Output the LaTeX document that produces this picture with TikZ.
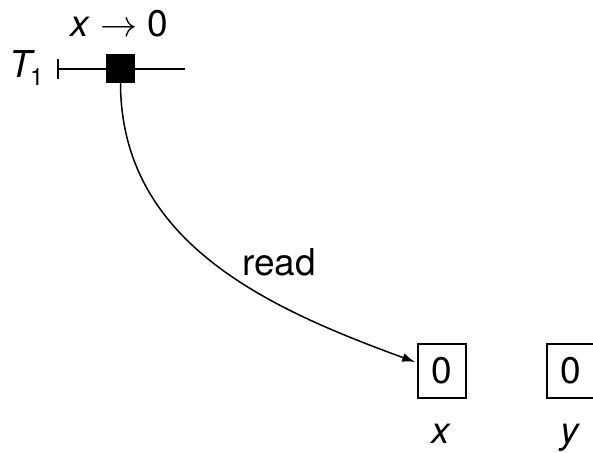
\RequirePackage{fix-cm}
\documentclass[tikz,border=0pt]{standalone}
\usepackage{fontspec}
\setmainfont{TeX Gyre Heros}
\usetikzlibrary{arrows.meta}
\begin{document}
\begin{tikzpicture}[x=1pt,y=1pt,
  every node/.style={font=\fontsize{37}{40}\selectfont},
  cell/.style={draw,line width=1.6pt,minimum width=48pt,minimum height=54pt,inner sep=0pt},
  lbl/.style={inner sep=0pt},
  event/.style={fill=black,minimum size=29pt,inner sep=0pt},
  conn/.style={line width=1.5pt}]
\useasboundingbox (0,0) rectangle (593,-452);
\coordinate (ls) at (57,-69);
\coordinate (le) at (185,-69);
\draw[conn,{Bar[width=20pt,line width=1.5pt]}-] (ls) -- (le);
\node[event] (w) at (120.5,-68.5) {};
\node[lbl,anchor=base] (op) at (119,-37) {\textit{x} $\rightarrow$ 0};
\node[lbl,anchor=base west] (t1) at (9,-77) {\textit{T}\kern-5pt\raisebox{-8pt}{\fontsize{24}{26}\selectfont 1}};
\node[cell] (bx) at (442,-371) {0};
\node[cell] (by) at (571,-371) {0};
\node[lbl,anchor=base] (lx) at (441,-443) {\textit{x}};
\node[lbl,anchor=base] (ly) at (570,-443) {\textit{y}};
\draw[conn,-{Latex[length=13pt,width=9pt]}] (w.south) .. controls (121,-242) and (267,-308) .. ([yshift=9pt,xshift=-2pt]bx.west);
\node[lbl,anchor=base west] (rd) at (242,-275) {read};
\end{tikzpicture}
\end{document}
